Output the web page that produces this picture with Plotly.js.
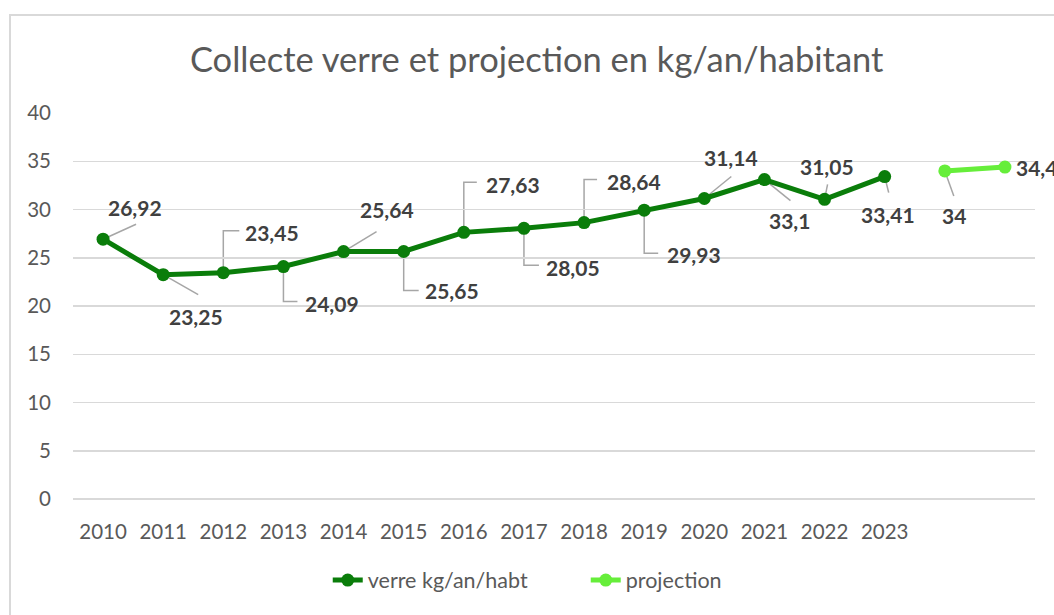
<!DOCTYPE html>
<html>
<head>
<meta charset="utf-8">
<script src="https://cdn.plot.ly/plotly-3.0.1.min.js"></script>
<style>
html,body{margin:0;padding:0;background:#fff;}
#chart{width:1054px;height:615px;}
</style>
</head>
<body>
<div id="chart"></div>
<script>
// ---- data ----
const categories = ['2010','2011','2012','2013','2014','2015','2016','2017','2018','2019','2020','2021','2022','2023','2024','2025'];
const tickLabels = ['2010','2011','2012','2013','2014','2015','2016','2017','2018','2019','2020','2021','2022','2023'];
const verreYears = ['2010','2011','2012','2013','2014','2015','2016','2017','2018','2019','2020','2021','2022','2023'];
const verreValues = [26.92,23.25,23.45,24.09,25.64,25.65,27.63,28.05,28.64,29.93,31.14,33.1,31.05,33.41];
const projYears = ['2024','2025'];
const projValues = [34,34.4];
const seriesNames = ['verre kg/an/habt','projection'];
const titleText = 'Collecte verre et projection en kg/an/habitant';

// ---- label placement (pixel offsets from the point; screen y down) ----
// [dx, dy, leader path points]
const verreLabelPos = [
  [32,-32, [[0,0],[33,-15]]],
  [33, 42, [[0,0],[35,20]]],
  [49,-40, [[0,0],[0,-42],[16,-42]]],
  [49, 37, [[0,0],[0,35],[14,35]]],
  [43,-42, [[0,0],[33,-20]]],
  [48, 39, [[0,0],[0,39],[15,39]]],
  [49,-48, [[0,0],[0,-50],[13,-50]]],
  [49, 39, [[0,0],[0,37],[15,37]]],
  [50,-41, [[0,0],[0,-43],[13,-43]]],
  [50, 44, [[0,0],[0,43],[14,43]]],
  [27,-41, [[0,0],[27,-22]]],
  [25, 41, [[0,0],[26,21]]],
  [2,-33, [[0,0],[3,-15]]],
  [3, 38, [[0,0],[4,16]]]
];
const projLabelPos = [
  [9, 45, [[0,0],[9,25]]],
  [32, 0, null]
];

const darkGreen = '#0a7d0a';
const lightGreen = '#66ee3a';
const textGray = '#595959';
const labelGray = '#404040';
const leaderGray = '#a6a6a6';
const fontFam = 'Lato, "Open Sans", sans-serif';

function fmt(v){ return String(v).replace('.', ','); }

const traces = [
  {
    type:'scatter', mode:'lines+markers', name: seriesNames[0],
    x: verreYears, y: verreValues,
    line:{color:darkGreen, width:5},
    marker:{color:darkGreen, size:13},
    hoverinfo:'skip'
  },
  {
    type:'scatter', mode:'lines+markers', name: seriesNames[1],
    x: projYears, y: projValues,
    line:{color:lightGreen, width:5},
    marker:{color:lightGreen, size:13},
    hoverinfo:'skip'
  }
];

const annotations = [];
const shapes = [];

function addLabels(xs, ys, pos){
  xs.forEach((xc, i) => {
    const p = pos[i];
    const xi = categories.indexOf(xc);
    annotations.push({
      x: xi, y: ys[i], xref:'x', yref:'y',
      text: fmt(ys[i]), showarrow:false,
      xshift: p[0], yshift: -p[1],
      font:{family:fontFam, size:21, weight:700, color:labelGray}
    });
    if (p[2]) {
      const path = p[2].map((pt, k) => (k===0?'M':'L') + pt[0] + ',' + (-pt[1])).join(' ');
      shapes.push({
        type:'path', xref:'x', yref:'y',
        xsizemode:'pixel', ysizemode:'pixel',
        xanchor: xi, yanchor: ys[i],
        path: path,
        line:{color:leaderGray, width:1.5},
        layer:'below'
      });
    }
  });
}
addLabels(verreYears, verreValues, verreLabelPos);
addLabels(projYears, projValues, projLabelPos);

// chart frame
shapes.push({
  type:'rect', xref:'paper', yref:'paper',
  x0:-0.0655, x1:1.2, y0:-0.6, y1:1.254,
  line:{color:'#d9d9d9', width:2}, fillcolor:'rgba(0,0,0,0)', layer:'below'
});

const layout = {
  width:1054, height:615,
  margin:{l:73, r:19, t:113, b:116},
  paper_bgcolor:'#ffffff', plot_bgcolor:'#ffffff',
  showlegend:true,
  title:{
    text:titleText, x:0.482, xref:'paper', xanchor:'center',
    y:0.902, yref:'container', yanchor:'middle',
    font:{family:fontFam, size:34.5, color:textGray}
  },
  xaxis:{
    type:'category', categoryorder:'array', categoryarray:categories,
    range:[-0.5, categories.length-0.5],
    tickmode:'array', tickvals:tickLabels, ticktext:tickLabels,
    showgrid:false, zeroline:false, showline:false, ticks:'',
    ticklabelstandoff:18,
    tickfont:{family:fontFam, size:20.5, color:textGray},
    fixedrange:true
  },
  yaxis:{
    range:[0,40], dtick:5, tick0:0,
    showgrid:true, gridcolor:'#d9d9d9', gridwidth:1.5,
    zeroline:true, zerolinecolor:'#d9d9d9', zerolinewidth:1.5,
    showline:false, ticks:'',
    ticklabelstandoff:21,
    tickfont:{family:fontFam, size:20.5, color:textGray},
    fixedrange:true
  },
  legend:{
    orientation:'h', x:0.533, xanchor:'center', y:-0.21, yanchor:'middle',
    font:{family:fontFam, size:21.5, color:textGray},
    entrywidth:213, entrywidthmode:'pixels',
    bgcolor:'rgba(0,0,0,0)', itemclick:false, itemdoubleclick:false
  },
  annotations: annotations,
  shapes: shapes
};

Plotly.newPlot('chart', traces, layout, {displayModeBar:false, staticPlot:true});
</script>
</body>
</html>
